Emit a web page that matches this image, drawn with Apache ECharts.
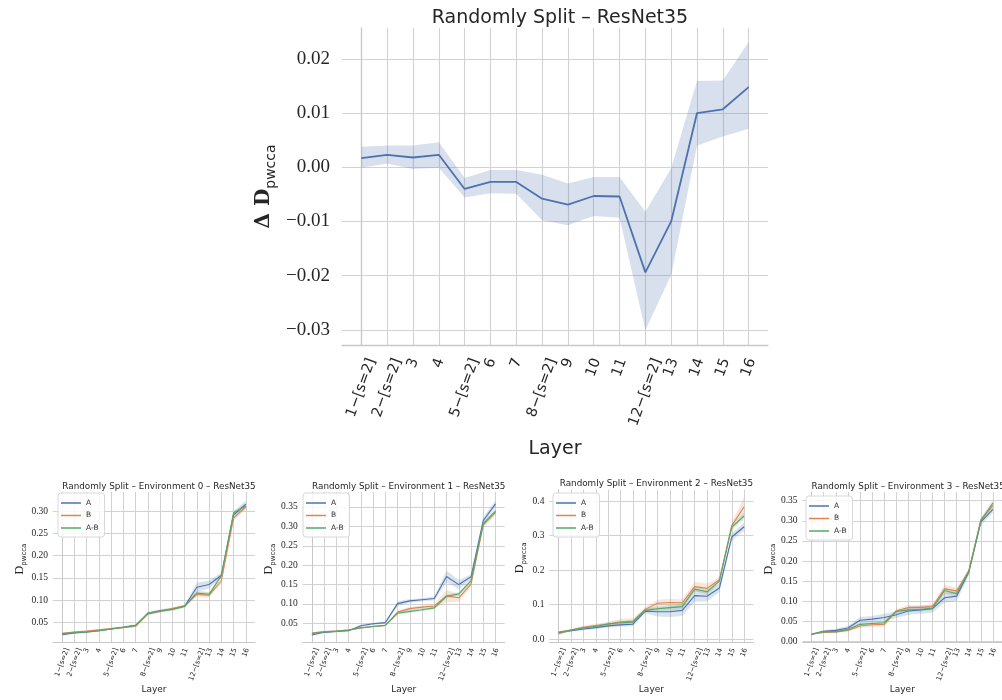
<!DOCTYPE html>
<html>
<head>
<meta charset="utf-8">
<script src="https://cdn.jsdelivr.net/npm/echarts@6/dist/echarts.min.js"></script>
<style>
html,body{margin:0;padding:0;background:#fff;}
#c{width:1002px;height:700px;}
</style>
</head>
<body>
<div id="c"></div>
<script>
// ---------- DATA ----------
const categories = ['1\u2212[s=2]','2\u2212[s=2]','3','4','5\u2212[s=2]','6','7','8\u2212[s=2]','9','10','11','12\u2212[s=2]','13','14','15','16'];

// Main chart: Δ D_pwcca
const mainMean = [0.0017,0.0023,0.0018,0.0023,-0.0040,-0.0027,-0.0027,-0.0058,-0.0069,-0.0053,-0.0054,-0.0194,-0.0100,0.0100,0.0107,0.0148];
const mainLow  = [-0.0001,0.0007,-0.0003,-0.0001,-0.0056,-0.0048,-0.0049,-0.0098,-0.0107,-0.0090,-0.0093,-0.0301,-0.0199,0.0040,0.0057,0.0071];
const mainHigh = [0.0038,0.0040,0.0040,0.0046,-0.0020,-0.0005,-0.0005,-0.0014,-0.0030,-0.0018,-0.0018,-0.0082,-0.0002,0.0159,0.0160,0.0231];
const mainTicks = [-0.03,-0.02,-0.01,0.00,0.01,0.02];

// Environment 0
const env0A  = [0.022,0.026,0.028,0.031,0.035,0.039,0.043,0.070,0.076,0.080,0.086,0.129,0.135,0.156,0.292,0.316];
const env0B  = [0.025,0.028,0.030,0.033,0.036,0.038,0.041,0.069,0.075,0.081,0.087,0.113,0.111,0.143,0.285,0.310];
const env0AB = [0.024,0.027,0.028,0.031,0.035,0.039,0.043,0.070,0.075,0.079,0.086,0.116,0.113,0.155,0.297,0.312];
const env0AErr  = [0.002,0.002,0.002,0.002,0.002,0.002,0.002,0.003,0.003,0.003,0.003,0.010,0.009,0.006,0.006,0.009];
const env0BErr  = [0.002,0.002,0.002,0.002,0.002,0.002,0.002,0.003,0.003,0.003,0.003,0.005,0.006,0.005,0.006,0.006];
const env0ABErr = [0.002,0.002,0.002,0.002,0.002,0.002,0.002,0.003,0.003,0.003,0.003,0.005,0.005,0.005,0.005,0.006];
const env0Ticks = [0.05,0.10,0.15,0.20,0.25,0.30];

// Environment 1
const env1A  = [0.020,0.027,0.029,0.031,0.044,0.049,0.052,0.101,0.108,0.111,0.114,0.171,0.150,0.170,0.315,0.358];
const env1B  = [0.025,0.029,0.030,0.033,0.038,0.042,0.045,0.079,0.088,0.092,0.095,0.121,0.116,0.151,0.304,0.336];
const env1AB = [0.024,0.028,0.030,0.033,0.039,0.042,0.045,0.076,0.081,0.085,0.090,0.120,0.126,0.160,0.307,0.339];
const env1AErr  = [0.002,0.002,0.002,0.002,0.003,0.003,0.003,0.006,0.005,0.004,0.005,0.015,0.012,0.006,0.008,0.009];
const env1BErr  = [0.002,0.002,0.002,0.002,0.002,0.002,0.002,0.004,0.004,0.004,0.005,0.016,0.010,0.006,0.006,0.007];
const env1ABErr = [0.002,0.002,0.002,0.002,0.002,0.002,0.002,0.003,0.004,0.004,0.004,0.005,0.005,0.006,0.006,0.006];
const env1Ticks = [0.05,0.10,0.15,0.20,0.25,0.30,0.35];

// Environment 2
const env2A  = [0.018,0.024,0.029,0.033,0.038,0.041,0.043,0.081,0.079,0.079,0.083,0.126,0.124,0.148,0.296,0.326];
const env2B  = [0.015,0.026,0.034,0.039,0.043,0.050,0.052,0.086,0.104,0.106,0.105,0.152,0.147,0.172,0.329,0.384];
const env2AB = [0.020,0.026,0.032,0.037,0.044,0.047,0.049,0.083,0.088,0.091,0.094,0.145,0.137,0.168,0.325,0.357];
const env2AErr  = [0.003,0.003,0.004,0.004,0.005,0.005,0.006,0.006,0.014,0.015,0.016,0.018,0.015,0.012,0.010,0.012];
const env2BErr  = [0.003,0.003,0.005,0.005,0.006,0.009,0.008,0.007,0.010,0.011,0.010,0.014,0.014,0.008,0.010,0.028];
const env2ABErr = [0.002,0.002,0.004,0.004,0.005,0.005,0.006,0.006,0.006,0.008,0.008,0.006,0.008,0.008,0.008,0.010];
const env2Ticks = [0.0,0.1,0.2,0.3,0.4];

// Environment 3
const env3A  = [0.018,0.026,0.028,0.034,0.053,0.056,0.060,0.067,0.076,0.079,0.082,0.109,0.113,0.172,0.297,0.328];
const env3B  = [0.019,0.023,0.024,0.028,0.039,0.042,0.043,0.076,0.085,0.085,0.087,0.131,0.126,0.175,0.302,0.338];
const env3AB = [0.019,0.025,0.025,0.030,0.043,0.045,0.047,0.075,0.079,0.080,0.083,0.127,0.119,0.174,0.300,0.344];
const env3AErr  = [0.002,0.003,0.004,0.005,0.008,0.008,0.009,0.008,0.010,0.010,0.010,0.012,0.012,0.008,0.008,0.008];
const env3BErr  = [0.002,0.002,0.003,0.003,0.005,0.005,0.006,0.005,0.006,0.005,0.005,0.010,0.008,0.006,0.006,0.008];
const env3ABErr = [0.002,0.002,0.003,0.003,0.004,0.004,0.005,0.004,0.005,0.005,0.005,0.008,0.007,0.006,0.006,0.008];
const env3Ticks = [0.00,0.05,0.10,0.15,0.20,0.25,0.30,0.35];

const seriesNames = ['A','B','A-B'];
// ---------- STYLE ----------
const COL = {A:'#4C72B0', B:'#DD8452', AB:'#55A868'};
const GRID_COLOR = '#d2d2d2';
const TEXT = '#262626';
const SANS = 'DejaVu Sans';
const SERIF = 'Liberation Serif';
const idx = categories.map((c,i)=>i);
const ROT = 70 * Math.PI / 180;

function fmtTick(dec){ return v => { const s = Math.abs(v).toFixed(dec); return (v < -1e-9 ? '\u2212' : '') + s; }; }
function hexA(hex,a){ const n=parseInt(hex.slice(1),16); return `rgba(${n>>16&255},${n>>8&255},${n&255},${a})`; }
const measureCtx = document.createElement('canvas').getContext('2d');
function textW(t, size){ measureCtx.font = size + 'px "' + SANS + '"'; return measureCtx.measureText(t).width; }

const grids = [
  {left:342, top:28, width:426, height:317},
  {left:53, top:492, width:202, height:150},
  {left:302.7, top:492, width:202, height:150},
  {left:549.4, top:489.5, width:204, height:152.5},
  {left:802.6, top:492, width:201, height:150}
];
const yRanges = [[-0.0328,0.0257],[0.0056,0.3435],[0.0021,0.3885],[-0.0087,0.434],[-0.0008,0.3714]];
const yTicks = [mainTicks, env0Ticks, env1Ticks, env2Ticks, env3Ticks];
const yDec = [2,2,2,1,2];

const xAxes = [], yAxes = [];
grids.forEach((g,i)=>{
  const big = i===0;
  xAxes.push({
    type:'value', gridIndex:i, min:-0.75, max:15.75,
    axisLine:{show:true, onZero:false, lineStyle:{color:'#c8c8c8', width:big?1.3:1}},
    axisTick:{show:false, customValues:idx},
    splitLine:{show:true, lineStyle:{color:GRID_COLOR, width:big?1.1:1}},
    axisLabel:{show:false, customValues:idx},
    name:'Layer', nameLocation:'middle', nameGap:big?95:43,
    nameTextStyle:{fontFamily:SANS, fontSize:big?19:9, color:TEXT}
  });
  yAxes.push({
    type:'value', gridIndex:i, min:yRanges[i][0], max:yRanges[i][1],
    axisLine:{show:true, lineStyle:{color:'#c8c8c8', width:big?1.3:1}},
    axisTick:{show:false, customValues:yTicks[i]},
    splitLine:{show:true, lineStyle:{color:GRID_COLOR, width:big?1.1:1}},
    axisLabel:{customValues:yTicks[i], formatter:fmtTick(yDec[i]), margin:big?12:5,
      fontFamily:SERIF, fontSize:big?19:9.5, color:TEXT},
    name: big ? '{d|\u0394 D}{s|pwcca}' : '{d|D}{s|pwcca}',
    nameLocation:'middle', nameRotate:90, nameGap:big?64:22,
    nameTextStyle:{ rich: big ? {
        d:{fontFamily:'DejaVu Serif', fontWeight:'bold', fontSize:20, lineHeight:28, color:TEXT},
        s:{fontFamily:SANS, fontSize:14, lineHeight:28, verticalAlign:'bottom', color:TEXT}
      } : {
        d:{fontFamily:SERIF, fontSize:12, lineHeight:16, color:TEXT, padding:[0,0,0,16]},
        s:{fontFamily:SANS, fontSize:7, lineHeight:16, verticalAlign:'bottom', color:TEXT}
      } }
  });
});

function band(gi, lo, hi, color, alpha){
  return { type:'custom', xAxisIndex:gi, yAxisIndex:gi, silent:true, z:1, data:[[0,0]],
    renderItem:(params, api)=>{
      const pts=[];
      for(let i=0;i<hi.length;i++) pts.push(api.coord([i, hi[i]]));
      for(let i=lo.length-1;i>=0;i--) pts.push(api.coord([i, lo[i]]));
      return {type:'polygon', shape:{points:pts}, style:{fill:hexA(color,alpha)}};
    }};
}
function line(gi, name, vals, color, w){
  return { type:'line', name:name, xAxisIndex:gi, yAxisIndex:gi, z:3, symbol:'none', showSymbol:false,
    data: vals.map((v,i)=>[i,v]), lineStyle:{color:color, width:w}, itemStyle:{color:color} };
}
// x tick labels, rotated 70° and centred on each tick (matplotlib-style)
function tickLabels(gi, size, pad){
  const yMin = yRanges[gi][0];
  return { type:'custom', xAxisIndex:gi, yAxisIndex:gi, silent:true, clip:false, z:5,
    data: idx.map(i=>[i, yMin]),
    renderItem:(params, api)=>{
      const i = api.value(0);
      const p = api.coord([i, yMin]);
      const t = categories[i];
      const L = textW(t, size), h = size * 1.15;
      const cy = p[1] + pad + (L*Math.sin(ROT) + h*Math.cos(ROT))/2;
      return {type:'text', x:p[0], y:cy, rotation:ROT,
        style:{text:t, fontFamily:SANS, fontSize:size, fill:TEXT, align:'center', verticalAlign:'middle'}};
    }};
}
const series = [];
series.push(band(0, mainLow, mainHigh, COL.A, 0.22));
series.push(line(0, 'main', mainMean, COL.A, 1.8));
series.push(tickLabels(0, 14.5, 11));

const envs = [
  [env0A,env0B,env0AB,env0AErr,env0BErr,env0ABErr],
  [env1A,env1B,env1AB,env1AErr,env1BErr,env1ABErr],
  [env2A,env2B,env2AB,env2AErr,env2BErr,env2ABErr],
  [env3A,env3B,env3AB,env3AErr,env3BErr,env3ABErr]
];
const cols = [COL.A, COL.B, COL.AB];
envs.forEach((e,k)=>{
  const gi=k+1;
  for(let s=0;s<3;s++){
    const m=e[s], er=e[s+3];
    series.push(band(gi, m.map((v,i)=>v-er[i]), m.map((v,i)=>v+er[i]), cols[s], 0.2));
  }
  for(let s=0;s<3;s++) series.push(line(gi, seriesNames[s], e[s], cols[s], 1.1));
  series.push(tickLabels(gi, 7, 5));
});

const titles = [{text:'Randomly Split \u2013 ResNet35', left:555, top:4, textAlign:'center',
  textStyle:{fontFamily:SANS, fontSize:19, fontWeight:'normal', color:TEXT}}];
['0','1','2','3'].forEach((n,k)=>{
  const g=grids[k+1];
  titles.push({text:'Randomly Split \u2013 Environment '+n+' \u2013 ResNet35', left:g.left+g.width/2, top:g.top-15,
    textAlign:'center', textStyle:{fontFamily:SANS, fontSize:8.8, fontWeight:'normal', color:TEXT}});
});

const legendPos = [[58,493],[303,493],[553,493],[806,496]];
const legends = legendPos.map(p=>({
  data:seriesNames, orient:'vertical', left:p[0], top:p[1], icon:'rect', itemWidth:20, itemHeight:1.5, itemGap:4.5,
  padding:[6,6,5,3], borderColor:'#d8d8d8', borderWidth:1, borderRadius:3, backgroundColor:'rgba(255,255,255,0.85)',
  textStyle:{fontFamily:SANS, fontSize:7.5, color:'#333'}, selectedMode:false
}));

const chart = echarts.init(document.getElementById('c'), null, {renderer:'canvas'});
chart.setOption({
  backgroundColor:'#ffffff', animation:false,
  title:titles, legend:legends,
  grid:grids.map(g=>Object.assign({containLabel:false}, g)),
  xAxis:xAxes, yAxis:yAxes, series:series
});
</script>
</body>
</html>
